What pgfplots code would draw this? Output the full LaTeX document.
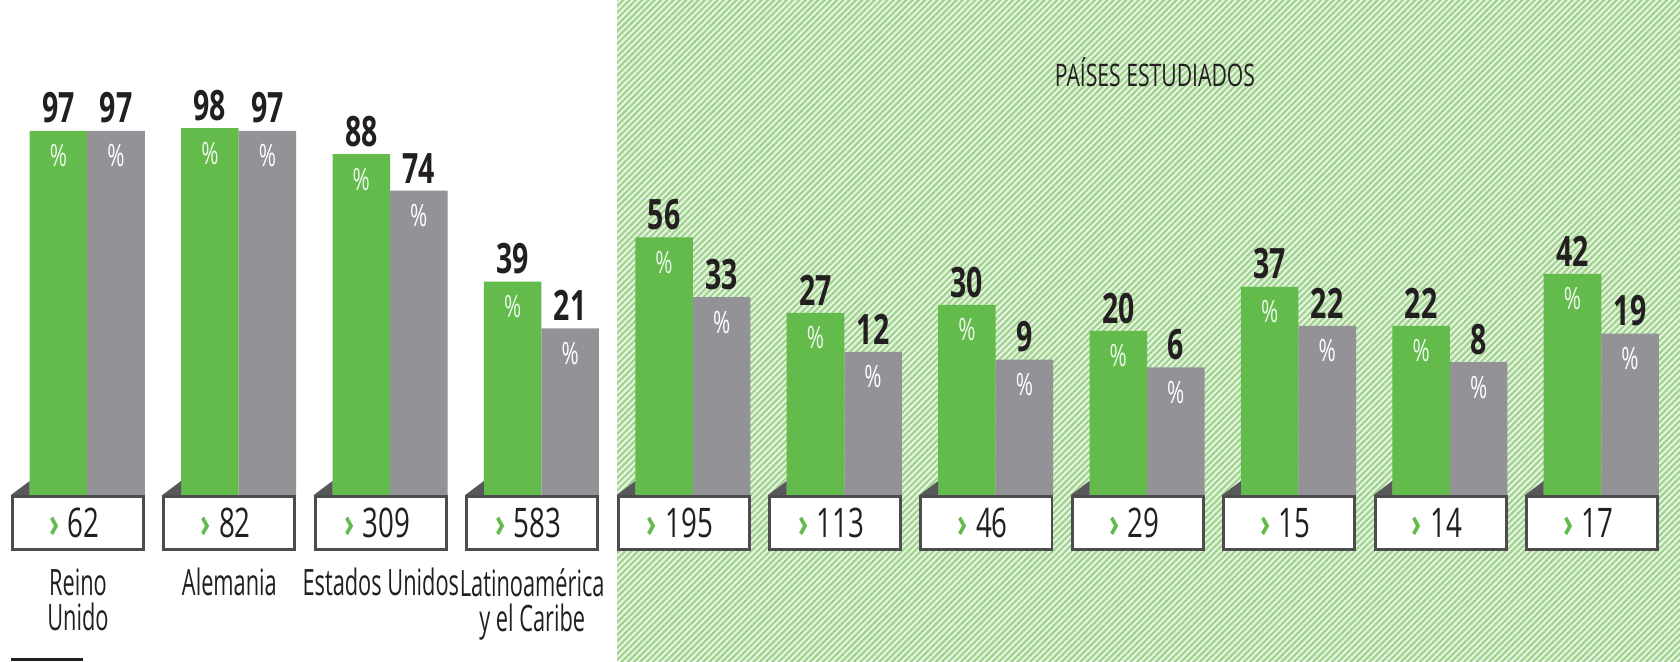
\documentclass[border=0pt]{standalone}
\usepackage{fontspec}
\setmainfont{Open Sans}[FakeStretch=0.6]
\newfontfamily\numfont{Open Sans}[FakeStretch=0.68]
\usepackage{pgfplots}
\pgfplotsset{compat=1.18}
\usetikzlibrary{patterns.meta}
\definecolor{barGreen}{HTML}{62BB4A}
\definecolor{barGray}{HTML}{939297}
\definecolor{boxLine}{HTML}{4D4D4F}
\definecolor{fold}{HTML}{58585A}
\definecolor{hatchGreen}{HTML}{A0D48E}
\definecolor{hatchBg}{HTML}{EAF5E5}
\definecolor{ink}{HTML}{231F20}

\begin{document}
\begin{tikzpicture}
\begin{axis}[
    scale only axis, width=453.5pt, height=178.43pt,
    xmin=-0.5152, xmax=10.581, ymin=-63.85, ymax=190.4,
    clip=false,
    axis line style={draw=none}, tick style={draw=none},
    ytick=\empty,
    xtick={0,...,10},
    xticklabels={{Reino\\Unido},Alemania,{Estados Unidos},{Latinoamérica\\y el Caribe},Brasil,México,Colombia,Perú,Ecuador,Guatemala,Chile},
    xticklabel style={align=center, anchor=north, inner sep=0pt, yshift=25.2pt,
        text=ink, font=\fontsize{9.8}{9.45}\selectfont},
    axis background/.style={fill=white},
    /pgf/number format/assume math mode=true,
    % value above the bar, % sign inside it (#1 colour of %, #2 shift to the bar centre)
    valstyle/.style 2 args={
        nodes near coords={\pgfmathprintnumber[fixed,precision=0]{\pgfplotspointmeta}},
        nodes near coords style={anchor=south, inner sep=0pt, yshift=1.8pt, xshift=#2, text=ink,
            font=\numfont\bfseries\fontsize{11.3}{11.3}\selectfont,
            label={[inner sep=0pt, label distance=5.3pt, text=#1,
                font=\numfont\fontsize{8.3}{8.3}\selectfont]below:\%}}},
]

% hatched panel for the countries studied
\fill[hatchBg] (axis cs:3.56,-63.85) rectangle (axis cs:10.581,190.4);
\fill[pattern={Lines[angle=45,distance=1.2pt,line width=0.6pt]}, pattern color=hatchGreen]
    (axis cs:3.56,-63.85) rectangle (axis cs:10.581,190.4);

% bars sit on the box row, drawn 43.1 units above their value base
\addplot[ybar, bar width=0.38, bar shift=-0.129, fill=barGreen, draw=none,
    y filter/.expression={y+43.1}, point meta=rawy, valstyle={white!90!barGreen}{-5.27pt}]
coordinates {(0,97) (1,98) (2,88) (3,39) (4,56) (5,27) (6,30) (7,20) (8,37) (9,22) (10,42)};

\addplot[ybar, bar width=0.38, bar shift=0.251, fill=barGray, draw=none,
    y filter/.expression={y+43.1}, point meta=rawy, valstyle={white}{10.26pt}]
coordinates {(0,97) (1,97) (2,74) (3,21) (4,33) (5,12) (6,9) (7,6) (8,22) (9,8) (10,19)};

\pgfplotsinvokeforeach{0,...,10}{
    \fill[fold] (axis cs:#1-0.4425,0) -- (axis cs:#1-0.319,0) -- (axis cs:#1-0.319,5.4) -- cycle;
}

% sample size boxes
\addplot[draw=none, mark=none, point meta=explicit symbolic,
    nodes near coords={{\color{barGreen}\bfseries ›}\hspace{2.2pt}\pgfplotspointmeta\kern2pt},
    nodes near coords style={anchor=center, draw=boxLine, line width=0.8pt, fill=white,
        minimum width=35.4pt, minimum height=14.3pt, inner sep=0pt, text=ink,
        font=\numfont\fontsize{11}{11}\selectfont}]
coordinates {(0,-10.7)[62] (1,-10.7)[82] (2,-10.7)[309] (3,-10.7)[583] (4,-10.7)[195]
    (5,-10.7)[113] (6,-10.7)[46] (7,-10.7)[29] (8,-10.7)[15] (9,-10.7)[14] (10,-10.7)[17]};

\node[anchor=base, text=ink, font=\numfont\fontsize{8.4}{8.4}\selectfont]
    at (axis cs:7.113,157) {PAÍSES ESTUDIADOS};
\draw[ink, line width=0.8pt] (axis cs:-0.4425,-63.3) -- (axis cs:0.033,-63.3);
\end{axis}
\end{tikzpicture}
\end{document}
